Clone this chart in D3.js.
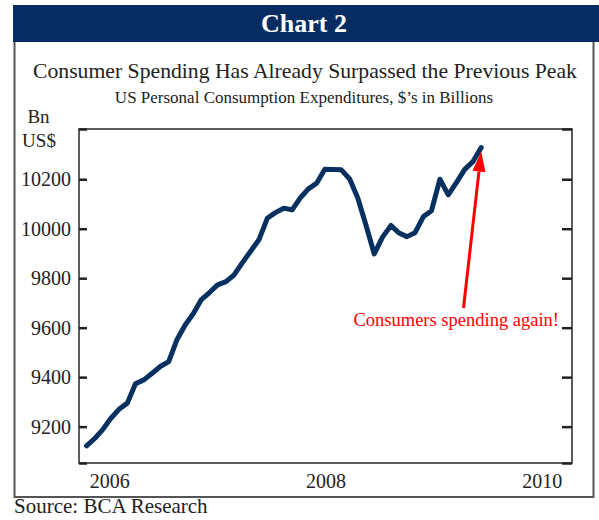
<!DOCTYPE html>
<html>
<head>
<meta charset="utf-8">
<script src="https://cdn.jsdelivr.net/npm/d3@7"></script>
<style>
  body { margin: 0; background: #fff; }
  svg { display: block; font-family: "Liberation Serif", "DejaVu Serif", serif; }
</style>
</head>
<body>
<svg width="599" height="520"></svg>
<script>
// monthly observations, Jan 2006 .. Jan 2010
const months = [
  "2006-01", "2006-02", "2006-03", "2006-04", "2006-05", "2006-06", "2006-07", "2006-08", "2006-09", "2006-10", "2006-11", "2006-12",
  "2007-01", "2007-02", "2007-03", "2007-04", "2007-05", "2007-06", "2007-07", "2007-08", "2007-09", "2007-10", "2007-11", "2007-12",
  "2008-01", "2008-02", "2008-03", "2008-04", "2008-05", "2008-06", "2008-07", "2008-08", "2008-09", "2008-10", "2008-11", "2008-12",
  "2009-01", "2009-02", "2009-03", "2009-04", "2009-05", "2009-06", "2009-07", "2009-08", "2009-09", "2009-10", "2009-11", "2009-12",
  "2010-01"
];
const spending = [
  9122, 9153, 9187, 9234, 9270, 9295, 9373, 9389, 9416, 9443, 9463, 9550,
  9611, 9658, 9712, 9742, 9773, 9786, 9813, 9863, 9910, 9955, 10042, 10065,
  10083, 10076, 10123, 10161, 10183, 10240, 10239, 10238, 10201, 10124, 10012, 9898,
  9967, 10013, 9984, 9968, 9984, 10049, 10073, 10200, 10137, 10186, 10240, 10271,
  10328
];
const yTicks = [9200, 9400, 9600, 9800, 10000, 10200];
const yearLabels = ["2006", "2008", "2010"];

window.addEventListener('load', () => {
    const svg = d3.select("svg");
    const parse = d3.timeParse("%Y-%m");
    const data = months.map((m, i) => ({ date: parse(m), value: spending[i] }));

    const pLeft = 79, pRight = 572, pTop = 129, pBottom = 463;

    // header bar
    svg.append("rect").attr("x", 13).attr("y", 5).attr("width", 586).attr("height", 37)
        .attr("fill", "#062c62");
    svg.append("text").attr("x", 304).attr("y", 32).attr("text-anchor", "middle")
        .attr("fill", "#fff").style("font-size", "26px").style("font-weight", "bold")
        .text("Chart 2");

    // outer frame (open at the top, under the bar)
    svg.append("path")
        .attr("d", "M14.5,42 V497 H593.5 V42")
        .attr("fill", "none").attr("stroke", "#555").attr("stroke-width", 2);

    // titles
    svg.append("text").attr("x", 305).attr("y", 78).attr("text-anchor", "middle")
        .attr("fill", "#222").style("font-size", "21.7px")
        .text("Consumer Spending Has Already Surpassed the Previous Peak");
    svg.append("text").attr("x", 304).attr("y", 103).attr("text-anchor", "middle")
        .attr("fill", "#222").style("font-size", "17px")
        .text("US Personal Consumption Expenditures, $\u2019s in Billions");

    // units
    svg.append("text").attr("x", 38.5).attr("y", 123).attr("text-anchor", "middle")
        .attr("fill", "#222").style("font-size", "19px").text("Bn");
    svg.append("text").attr("x", 39).attr("y", 147).attr("text-anchor", "middle")
        .attr("fill", "#222").style("font-size", "19px").text("US$");

    // scales
    const x = d3.scaleTime()
        .domain([new Date(2005, 11, 4), new Date(2010, 11, 3)])
        .range([pLeft, pRight]);
    const y = d3.scaleLinear().domain([9053, 10403]).range([pBottom, pTop]);
    const yearScale = d3.scalePoint().domain(yearLabels).range([pLeft, pRight]).padding(0.14);

    // plot frame
    svg.append("rect").attr("x", pLeft).attr("y", pTop)
        .attr("width", pRight - pLeft).attr("height", pBottom - pTop)
        .attr("fill", "none").attr("stroke", "#333").attr("stroke-width", 1.6);

    const allTicks = [y.domain()[0], ...yTicks, y.domain()[1]];

    // left axis, ticks pointing inward
    const yl = svg.append("g").attr("transform", "translate(" + pLeft + ",0)")
        .call(d3.axisLeft(y).tickValues(allTicks).tickSize(-8).tickPadding(8)
            .tickFormat(d => yTicks.includes(d) ? d : ""));
    // right axis, ticks only
    const yr = svg.append("g").attr("transform", "translate(" + pRight + ",0)")
        .call(d3.axisRight(y).tickValues(allTicks).tickSize(-10).tickFormat(""));
    [yl, yr].forEach(g => {
        g.select(".domain").remove();
        g.selectAll(".tick line").attr("stroke", "#222").attr("stroke-width", 2.5);
    });
    yl.selectAll(".tick text").attr("fill", "#222")
        .style("font-size", "20px").style("font-family", "Liberation Serif, serif");

    // year labels
    const xa = svg.append("g").attr("transform", "translate(0," + pBottom + ")")
        .call(d3.axisBottom(yearScale).tickSize(0).tickPadding(11));
    xa.select(".domain").remove();
    xa.selectAll(".tick text").attr("fill", "#222")
        .style("font-size", "20px").style("font-family", "Liberation Serif, serif");

    // the series
    const line = d3.line().x(d => x(d.date)).y(d => y(d.value));
    svg.append("path").datum(data)
        .attr("d", line)
        .attr("fill", "none")
        .attr("stroke", "#06305f")
        .attr("stroke-width", 5)
        .attr("stroke-linejoin", "round")
        .attr("stroke-linecap", "round");

    // annotation arrow pointing at the latest value
    const last = data[data.length - 1];
    const tip = [x(last.date), y(last.value) + 4];
    const tail = [463.5, 308];
    const dx = tip[0] - tail[0], dy = tip[1] - tail[1];
    const len = Math.hypot(dx, dy), ux = dx / len, uy = dy / len;
    const headLen = 20, headW = 6.5;
    const base = [tip[0] - ux * headLen, tip[1] - uy * headLen];
    svg.append("line")
        .attr("x1", tail[0]).attr("y1", tail[1])
        .attr("x2", base[0]).attr("y2", base[1])
        .attr("stroke", "#ff0000").attr("stroke-width", 3);
    svg.append("path")
        .attr("d", "M" + tip + "L" + [base[0] - uy * headW, base[1] + ux * headW] +
            "L" + [base[0] + uy * headW, base[1] - ux * headW] + "Z")
        .attr("fill", "#ff0000");
    svg.append("text").attr("x", 559).attr("y", 326).attr("text-anchor", "end")
        .attr("fill", "#ff0000").style("font-size", "18.5px")
        .text("Consumers spending again!");

    // source
    svg.append("text").attr("x", 14).attr("y", 513)
        .attr("fill", "#222").style("font-size", "21px")
        .text("Source: BCA Research");
});
</script>
</body>
</html>
